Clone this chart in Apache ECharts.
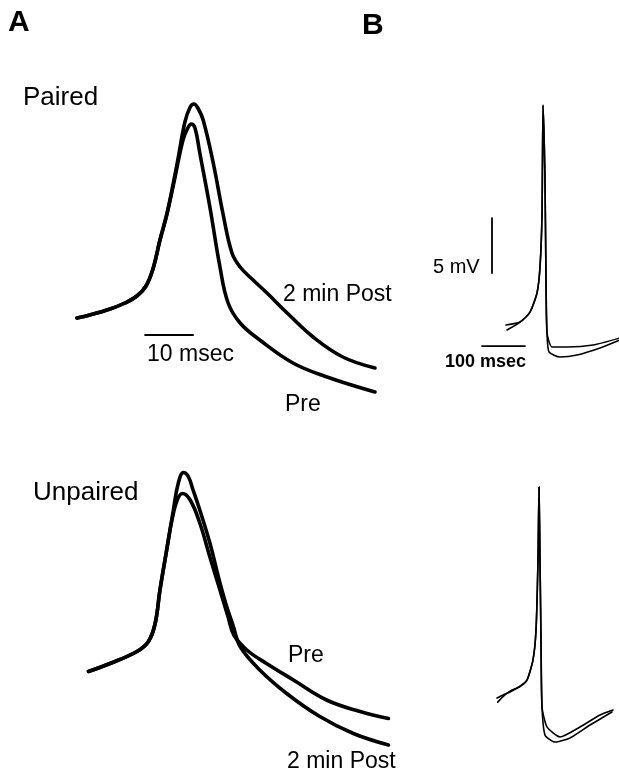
<!DOCTYPE html>
<html>
<head>
<meta charset="utf-8">
<script src="https://cdn.jsdelivr.net/npm/echarts@6/dist/echarts.min.js"></script>
<style>
html,body{margin:0;padding:0;background:#fff;}
#chart{width:619px;height:775px;}
</style>
</head>
<body>
<div id="chart"></div>
<script>
// ---- Panel A, Paired (x: msec, y: relative amplitude) ----
var pairedPostX = [0.4, 3.1, 7.3, 10.4, 12.9, 14.8, 16.3, 17.7, 19.2, 21.3, 22.9, 24.0, 24.8, 25.6, 26.7, 28.8, 30.8, 32.7, 34.4, 37.1, 40.0, 44.2, 49.6, 55.8, 62.5];
var pairedPostY = [15.4, 16.0, 17.2, 18.4, 19.8, 21.8, 25.4, 31.0, 36.4, 46.4, 54.6, 57.6, 58.2, 57.4, 55.0, 46.4, 36.4, 28.4, 25.6, 23.0, 20.4, 16.4, 11.6, 7.6, 5.4];
var pairedPreX = [0.4, 3.1, 7.3, 10.4, 12.9, 14.8, 16.3, 17.7, 19.2, 20.8, 22.5, 23.5, 24.2, 25.0, 26.0, 28.1, 30.2, 31.9, 34.4, 38.5, 45.4, 52.5, 62.5];
var pairedPreY = [15.4, 16.0, 17.2, 18.4, 19.8, 21.8, 25.4, 31.0, 36.4, 43.4, 51.0, 53.4, 54.2, 53.4, 48.4, 37.6, 25.6, 18.4, 14.4, 11.0, 6.4, 3.6, 0.6];

// ---- Panel A, Unpaired ----
var unpairedPostX = [2.8, 7.3, 12.9, 15.3, 16.7, 17.7, 19.1, 20.5, 21.5, 22.6, 23.6, 24.6, 26.0, 28.1, 30.2, 31.6, 33.0, 34.4, 38.5, 44.1, 51.0, 58.0, 65.3];
var unpairedPostY = [18.7, 20.3, 22.7, 24.7, 28.3, 35.0, 43.0, 51.0, 56.3, 58.5, 57.7, 55.0, 51.0, 44.4, 36.4, 31.7, 27.7, 23.7, 19.0, 14.3, 9.7, 6.3, 4.0];
var unpairedPreX = [2.8, 7.3, 12.9, 15.3, 16.7, 17.7, 19.1, 20.2, 21.3, 22.4, 24.0, 26.0, 28.1, 30.2, 31.9, 33.1, 35.8, 39.9, 45.5, 52.4, 59.4, 65.3];
var unpairedPreY = [18.7, 20.3, 22.7, 24.7, 28.3, 35.0, 43.0, 49.0, 53.0, 54.3, 53.0, 48.4, 41.6, 35.0, 29.6, 26.0, 23.0, 20.3, 17.0, 13.0, 10.7, 9.3];

// ---- Panel B, top (x: msec, y: mV) ----
var bTop1X = [37.2, 69.8, 93.0, 109.3, 116.3, 121.0, 123.3, 127.9, 130.2, 132.6, 144.2, 179.1, 239.6, 302.4];
var bTop1Y = [3.18, 3.45, 4.36, 6.09, 8.45, 13.36, 23.18, 16.36, 7.27, 2.45, 1.18, 1.18, 1.36, 2.0];
var bTop2X = [39.5, 69.8, 93.0, 109.3, 116.3, 121.0, 123.3, 127.9, 130.2, 132.6, 137.2, 162.8, 202.4, 255.9, 302.4];
var bTop2Y = [2.73, 3.45, 4.36, 6.09, 8.45, 13.36, 23.18, 16.36, 7.27, 2.45, 0.73, 0.27, 0.45, 1.09, 1.82];

// ---- Panel B, bottom ----
var bBot1X = [16.3, 30.2, 46.5, 69.8, 86.0, 100.0, 107.0, 111.6, 114.0, 116.3, 118.6, 121.0, 132.6, 162.8, 209.3, 255.9, 286.0];
var bBot1Y = [4.27, 4.55, 4.82, 5.36, 5.91, 7.73, 10.45, 16.8, 23.45, 16.8, 9.55, 3.45, 1.64, 0.73, 1.64, 2.73, 3.18];
var bBot2X = [18.0, 30.2, 46.5, 69.8, 86.0, 100.0, 107.0, 111.6, 114.0, 116.3, 118.6, 121.0, 128.0, 151.0, 186.0, 232.6, 283.7];
var bBot2Y = [3.9, 4.4, 4.9, 5.3, 5.9, 7.73, 10.45, 16.8, 23.45, 16.8, 9.55, 3.45, 0.9, 0.27, 0.64, 1.82, 3.0];

// ---- Scale bars ----
var scaleA_X = [14.6, 24.6];   // 10 msec
var scaleA_Y = [12.0, 12.0];
var scaleBv_X = [4.65, 4.65];  // 5 mV
var scaleBv_Y = [7.9, 12.9];
var scaleBh_X = [-18.6, 81.4]; // 100 msec
var scaleBh_Y = [1.27, 1.27];

// ---- Labels ----
var panelLabels = ['A', 'B'];
var conditionLabels = ['Paired', 'Unpaired'];
var traceLabels = ['2 min Post', 'Pre'];
var scaleLabels = ['10 msec', '5 mV', '100 msec'];

function zip(xs, ys) { return xs.map(function (x, i) { return [x, ys[i]]; }); }

var FONT = '"Liberation Sans", Arial, Helvetica, sans-serif';

function trace(name, xs, ys, gi, w, smooth) {
  return {
    name: name, type: 'line', xAxisIndex: gi, yAxisIndex: gi,
    data: zip(xs, ys), showSymbol: false, symbol: 'none', clip: false,
    smooth: smooth, silent: true,
    lineStyle: { color: '#000', width: w, cap: 'round', join: 'round' }
  };
}

function xA(gi, min, max) { return { type: 'value', gridIndex: gi, min: min, max: max, show: false }; }
function yA(gi, min, max) { return { type: 'value', gridIndex: gi, min: min, max: max, show: false }; }

var option = {
  backgroundColor: '#fff',
  animation: false,
  grid: [
    { left: 75, top: 95, width: 316.8, height: 300, outerBoundsMode: 'none', containLabel: false },
    { left: 75, top: 465, width: 316.8, height: 300, outerBoundsMode: 'none', containLabel: false },
    { left: 472.8, top: 96, width: 147.06, height: 264, outerBoundsMode: 'none', containLabel: false },
    { left: 472.8, top: 481, width: 147.06, height: 264, outerBoundsMode: 'none', containLabel: false }
  ],
  xAxis: [xA(0, 0, 66), xA(1, 0, 66), xA(2, -40, 302), xA(3, -40, 302)],
  yAxis: [yA(0, 0, 60), yA(1, 0, 60), yA(2, 0, 24), yA(3, 0, 24)],
  series: [
    trace('Paired 2 min Post', pairedPostX, pairedPostY, 0, 3.6, 0.4),
    trace('Paired Pre', pairedPreX, pairedPreY, 0, 3.6, 0.4),
    trace('Unpaired 2 min Post', unpairedPostX, unpairedPostY, 1, 3.6, 0.4),
    trace('Unpaired Pre', unpairedPreX, unpairedPreY, 1, 3.6, 0.4),
    trace('B top 1', bTop1X, bTop1Y, 2, 1.6, 0.2),
    trace('B top 2', bTop2X, bTop2Y, 2, 1.6, 0.2),
    trace('B bottom 1', bBot1X, bBot1Y, 3, 1.6, 0.2),
    trace('B bottom 2', bBot2X, bBot2Y, 3, 1.6, 0.2),
    trace('10 msec bar', scaleA_X, scaleA_Y, 0, 1.8, false),
    trace('5 mV bar', scaleBv_X, scaleBv_Y, 2, 1.8, false),
    trace('100 msec bar', scaleBh_X, scaleBh_Y, 2, 1.8, false)
  ],
  graphic: [
    { type: 'text', left: 8, top: 8, style: { text: panelLabels[0], font: 'bold 30px ' + FONT, fill: '#000' } },
    { type: 'text', left: 362, top: 11, style: { text: panelLabels[1], font: 'bold 30px ' + FONT, fill: '#000' } },
    { type: 'text', x: 23, y: 98, style: { text: conditionLabels[0], font: '26px ' + FONT, fill: '#000', verticalAlign: 'middle' } },
    { type: 'text', x: 33, y: 493, style: { text: conditionLabels[1], font: '26px ' + FONT, fill: '#000', verticalAlign: 'middle' } },
    { type: 'text', x: 283, y: 295, style: { text: traceLabels[0], font: '23px ' + FONT, fill: '#000', verticalAlign: 'middle' } },
    { type: 'text', x: 285, y: 405, style: { text: traceLabels[1], font: '23px ' + FONT, fill: '#000', verticalAlign: 'middle' } },
    { type: 'text', x: 288, y: 656, style: { text: traceLabels[1], font: '23px ' + FONT, fill: '#000', verticalAlign: 'middle' } },
    { type: 'text', x: 287, y: 762, style: { text: traceLabels[0], font: '23px ' + FONT, fill: '#000', verticalAlign: 'middle' } },
    { type: 'text', x: 147, y: 355, style: { text: scaleLabels[0], font: '23px ' + FONT, fill: '#000', verticalAlign: 'middle' } },
    { type: 'text', x: 433, y: 267, style: { text: scaleLabels[1], font: '20px ' + FONT, fill: '#000', verticalAlign: 'middle' } },
    { type: 'text', x: 445, y: 362, style: { text: scaleLabels[2], font: 'bold 18px ' + FONT, fill: '#000', verticalAlign: 'middle' } }
  ]
};

var chart = echarts.init(document.getElementById('chart'), null, { renderer: 'canvas' });
chart.setOption(option);
</script>
</body>
</html>
